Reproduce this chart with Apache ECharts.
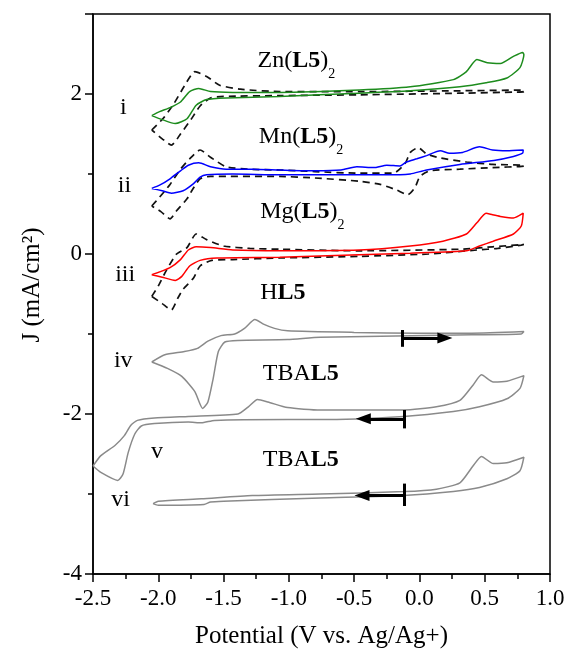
<!DOCTYPE html>
<html>
<head>
<meta charset="utf-8">
<script src="https://cdn.jsdelivr.net/npm/echarts@6/dist/echarts.min.js"></script>
<style>
  html, body { margin: 0; padding: 0; background: #fff; }
  #cvChart { width: 568px; height: 656px; }
</style>
</head>
<body>
<div id="cvChart"></div>
<script>
// axis ranges (V vs Ag/Ag+, mA/cm2)
const xRange = [-2.5, 1.0];
const yRange = [-4, 3];

// i  Zn(L5)2  - loop: upper branch left->right, then lower branch back
const znSolid = [
  [-2.05, 1.73], [-1.99, 1.78], [-1.91, 1.83], [-1.83, 1.90], [-1.76, 2.03], [-1.69, 2.07],
  [-1.60, 2.03], [-1.43, 2.02], [-1.07, 2.02], [-0.46, 2.05], [-0.07, 2.09], [0.26, 2.18],
  [0.36, 2.28], [0.44, 2.43], [0.52, 2.39], [0.62, 2.38], [0.72, 2.47], [0.79, 2.52], [0.80, 2.49],
  [0.77, 2.33], [0.67, 2.20], [0.51, 2.14], [0.31, 2.09], [-0.07, 2.04], [-0.46, 2.01],
  [-1.07, 1.97], [-1.48, 1.95], [-1.63, 1.93], [-1.71, 1.86], [-1.78, 1.69], [-1.87, 1.63],
  [-1.97, 1.68], [-2.05, 1.73]
];
const znDash = [
  [-2.05, 1.55], [-1.96, 1.70], [-1.88, 1.88], [-1.80, 2.10], [-1.72, 2.28], [-1.63, 2.22],
  [-1.53, 2.11], [-1.37, 2.06], [-1.07, 2.03], [-0.46, 2.03], [0.30, 2.04], [0.80, 2.05],
  [0.80, 2.03], [0.30, 2.01], [-0.46, 1.99], [-1.07, 1.98], [-1.50, 1.97], [-1.60, 1.95],
  [-1.68, 1.85], [-1.75, 1.68], [-1.83, 1.50], [-1.90, 1.36], [-1.97, 1.44], [-2.05, 1.55]
];

// ii  Mn(L5)2
const mnSolid = [
  [-2.05, 0.82], [-1.99, 0.86], [-1.91, 0.94], [-1.83, 1.04], [-1.77, 1.11], [-1.69, 1.14],
  [-1.60, 1.09], [-1.48, 1.06], [-1.28, 1.06], [-1.07, 1.05], [-0.80, 1.04], [-0.60, 1.05],
  [-0.48, 1.09], [-0.35, 1.08], [-0.25, 1.11], [-0.15, 1.10], [-0.10, 1.15], [-0.02, 1.19],
  [0.055, 1.23], [0.16, 1.29], [0.23, 1.26], [0.33, 1.27], [0.46, 1.34], [0.56, 1.30],
  [0.67, 1.29], [0.795, 1.30],
  [0.79, 1.26], [0.72, 1.22], [0.57, 1.17], [0.31, 1.12], [0.055, 1.05], [-0.07, 1.00],
  [-0.15, 0.99], [-0.46, 0.99], [-1.07, 0.99], [-1.43, 1.00], [-1.63, 0.99], [-1.68, 0.96],
  [-1.73, 0.88], [-1.81, 0.79], [-1.90, 0.76], [-1.97, 0.79], [-2.05, 0.82]
];
const mnDash = [
  [-2.05, 0.60], [-1.99, 0.71], [-1.91, 0.87], [-1.83, 1.06], [-1.76, 1.19], [-1.68, 1.30],
  [-1.60, 1.21], [-1.48, 1.09], [-1.30, 1.06], [-1.07, 1.05], [-0.80, 1.03], [-0.46, 1.01],
  [-0.20, 1.01], [-0.11, 1.13], [-0.07, 1.27], [-0.01, 1.33], [0.055, 1.25], [0.16, 1.20],
  [0.36, 1.15], [0.56, 1.12], [0.80, 1.11],
  [0.80, 1.10], [0.56, 1.08], [0.31, 1.06], [0.08, 1.04], [0.004, 0.97], [-0.034, 0.83],
  [-0.09, 0.74], [-0.175, 0.80], [-0.30, 0.87], [-0.46, 0.91], [-0.80, 0.95], [-1.07, 0.97],
  [-1.60, 0.97], [-1.68, 0.94], [-1.74, 0.80], [-1.78, 0.69], [-1.86, 0.54], [-1.91, 0.44],
  [-1.98, 0.53], [-2.05, 0.60]
];

// iii Mg(L5)2
const mgSolid = [
  [-2.05, -0.26], [-1.91, -0.17], [-1.83, -0.07], [-1.77, 0.05], [-1.71, 0.09], [-1.60, 0.08],
  [-1.43, 0.05], [-1.07, 0.04], [-0.46, 0.05], [-0.07, 0.10], [0.18, 0.16], [0.36, 0.25],
  [0.44, 0.39], [0.51, 0.51], [0.56, 0.49], [0.62, 0.47], [0.72, 0.45], [0.795, 0.51],
  [0.78, 0.35], [0.72, 0.25], [0.565, 0.16], [0.46, 0.10], [0.36, 0.04], [-0.07, 0.01],
  [-0.46, -0.01], [-1.07, -0.04], [-1.55, -0.05], [-1.68, -0.08], [-1.76, -0.15], [-1.82, -0.28],
  [-1.87, -0.33], [-1.97, -0.29], [-2.05, -0.26]
];
const mgDash = [
  [-2.05, -0.53], [-2.00, -0.40], [-1.94, -0.21], [-1.86, 0.00], [-1.78, 0.08], [-1.71, 0.25],
  [-1.63, 0.18], [-1.50, 0.10], [-1.30, 0.07], [-1.07, 0.06], [-0.46, 0.04], [0.31, 0.06],
  [0.56, 0.09], [0.80, 0.12],
  [0.78, 0.11], [0.60, 0.07], [0.44, 0.05], [0.07, 0.00], [-0.46, -0.03], [-1.07, -0.05],
  [-1.43, -0.07], [-1.59, -0.08], [-1.68, -0.15], [-1.73, -0.30], [-1.81, -0.44], [-1.85, -0.55],
  [-1.90, -0.70], [-1.97, -0.62], [-2.05, -0.53]
];

// iv HL5
const hl5 = [
  [-2.05, -1.35], [-1.95, -1.26], [-1.80, -1.22], [-1.70, -1.18], [-1.62, -1.09], [-1.52, -1.02],
  [-1.415, -1.00], [-1.34, -0.93], [-1.26, -0.82], [-1.19, -0.88], [-1.11, -0.93], [-1.01, -0.96],
  [-0.50, -0.98], [0.00, -0.99], [0.40, -0.99], [0.80, -0.97],
  [0.78, -1.00], [0.40, -1.01], [-0.76, -1.04], [-1.01, -1.07], [-1.39, -1.08], [-1.49, -1.10],
  [-1.54, -1.22], [-1.58, -1.56], [-1.62, -1.85], [-1.66, -1.93], [-1.72, -1.72], [-1.82, -1.53],
  [-1.93, -1.43], [-2.05, -1.35]
];

// v TBAL5 (wide window)
const tbaWide = [
  [-2.50, -2.65], [-2.44, -2.52], [-2.33, -2.39], [-2.26, -2.27], [-2.21, -2.14], [-2.16, -2.08],
  [-2.03, -2.05], [-1.77, -2.03], [-1.39, -2.00], [-1.31, -1.91], [-1.24, -1.82], [-1.16, -1.85],
  [-1.01, -1.92], [-0.76, -1.95], [-0.12, -1.95], [0.13, -1.91], [0.31, -1.83], [0.41, -1.64],
  [0.475, -1.51], [0.565, -1.60], [0.67, -1.59], [0.80, -1.52],
  [0.77, -1.68], [0.67, -1.81], [0.46, -1.91], [0.26, -1.97], [-0.12, -2.03], [-0.76, -2.07],
  [-1.01, -2.07], [-1.57, -2.08], [-1.67, -2.11], [-1.77, -2.10], [-2.03, -2.12], [-2.13, -2.15],
  [-2.18, -2.25], [-2.23, -2.48], [-2.27, -2.75], [-2.31, -2.83], [-2.44, -2.73], [-2.50, -2.65]
];

// vi TBAL5 (narrow window)
const tbaNarrow = [
  [-2.04, -3.12], [-2.00, -3.09], [-1.67, -3.06], [-1.28, -3.02], [-0.76, -3.00], [-0.12, -2.97],
  [0.13, -2.94], [0.31, -2.86], [0.41, -2.65], [0.475, -2.53], [0.565, -2.62], [0.67, -2.61],
  [0.80, -2.54],
  [0.77, -2.71], [0.67, -2.81], [0.46, -2.92], [0.26, -2.97], [-0.12, -3.02], [-0.76, -3.05],
  [-1.50, -3.09], [-1.60, -3.10], [-1.65, -3.13], [-2.00, -3.14], [-2.04, -3.12]
];

// scan-direction arrows: start potential, tip potential, current, bar low/high
const scanArrows = [
  { from: -0.13, to: 0.195, j: -1.05, bar: [-0.95, -1.16] },
  { from: -0.12, to: -0.43, j: -2.06, bar: [-1.95, -2.18] },
  { from: -0.12, to: -0.44, j: -3.02, bar: [-2.87, -3.15] }
];

// text labels: [potential of left edge, current at baseline, pieces]
const curveNames = [
  { at: [-1.24, 2.31], parts: [['Zn(', 'n'], ['L5', 'b'], [')', 'n'], ['2', 's']] },
  { at: [-1.23, 1.36], parts: [['Mn(', 'n'], ['L5', 'b'], [')', 'n'], ['2', 's']] },
  { at: [-1.22, 0.425], parts: [['Mg(', 'n'], ['L5', 'b'], [')', 'n'], ['2', 's']] },
  { at: [-1.22, -0.58], parts: [['H', 'n'], ['L5', 'b']] },
  { at: [-1.20, -1.60], parts: [['TBA', 'n'], ['L5', 'b']] },
  { at: [-1.20, -2.675], parts: [['TBA', 'n'], ['L5', 'b']] }
];
const romanNames = [
  { at: [-2.293, 1.725], text: 'i' },
  { at: [-2.31, 0.75], text: 'ii' },
  { at: [-2.33, -0.36], text: 'iii' },
  { at: [-2.34, -1.43], text: 'iv' },
  { at: [-2.056, -2.575], text: 'v' },
  { at: [-2.36, -3.175], text: 'vi' }
];

const serif = "Liberation Serif";
var myChart = echarts.init(document.getElementById("cvChart"));

function curve(name, data, color, dashed) {
  return {
    name: name,
    type: "line",
    data: data,
    smooth: 0.2,
    showSymbol: false,
    symbol: "none",
    clip: true,
    silent: true,
    lineStyle: {
      color: color,
      width: dashed ? 1.7 : 1.5,
      type: dashed ? [7, 5] : "solid",
    },
    z: dashed ? 2 : 3,
  };
}

let arrowLines = [];
scanArrows.forEach((a) => {
  arrowLines.push([
    { coord: [a.from, a.j], symbol: "none" },
    { coord: [a.to, a.j], symbol: "triangle", symbolSize: [11, 15] },
  ]);
  arrowLines.push([
    { coord: [a.from, a.bar[0]], symbol: "none" },
    { coord: [a.from, a.bar[1]], symbol: "none" },
  ]);
});

let option = {
  animation: false,
  textStyle: { fontFamily: serif },
  grid: {
    left: 93, right: 18, top: 14, bottom: 82,
    show: true, borderColor: "#000", borderWidth: 1.5,
  },
  xAxis: {
    type: "value",
    min: xRange[0], max: xRange[1], interval: 0.5,
    axisLine: { onZero: false, lineStyle: { color: "#000", width: 1.5 } },
    axisTick: { length: 8, lineStyle: { color: "#000", width: 1.5 } },
    minorTick: { show: true, splitNumber: 2, length: 5, lineStyle: { color: "#000", width: 1.5 } },
    splitLine: { show: false },
    axisLabel: {
      color: "#000", fontFamily: serif, fontSize: 23, margin: 13,
      formatter: (v) => v.toFixed(1),
    },
    name: "Potential (V vs. Ag/Ag+)",
    nameLocation: "middle",
    nameGap: 50,
    nameTextStyle: { color: "#000", fontFamily: serif, fontSize: 25 },
  },
  yAxis: {
    type: "value",
    min: yRange[0], max: yRange[1], interval: 2,
    axisLine: { onZero: false, lineStyle: { color: "#000", width: 1.5 } },
    axisTick: { length: 8, lineStyle: { color: "#000", width: 1.5 } },
    minorTick: { show: true, splitNumber: 2, length: 5, lineStyle: { color: "#000", width: 1.5 } },
    splitLine: { show: false },
    axisLabel: {
      color: "#000", fontFamily: serif, fontSize: 23, margin: 11,
      showMaxLabel: false,
      formatter: (v) => (v === 3 ? "" : String(v)),
    },
    name: "J (mA/cm²)",
    nameLocation: "middle",
    nameGap: 48,
    nameTextStyle: { color: "#000", fontFamily: serif, fontSize: 25, padding: [0, 0, 0, 18] },
  },
  series: [
    curve("Zn dashed", znDash, "#111", true),
    curve("Zn(L5)2", znSolid, "#1d8c1d", false),
    curve("Mn dashed", mnDash, "#111", true),
    curve("Mn(L5)2", mnSolid, "#0000ff", false),
    curve("Mg dashed", mgDash, "#111", true),
    curve("Mg(L5)2", mgSolid, "#ff0000", false),
    curve("HL5", hl5, "#8a8a8a", false),
    curve("TBAL5 wide", tbaWide, "#8a8a8a", false),
    curve("TBAL5", tbaNarrow, "#8a8a8a", false),
    {
      name: "scan arrows",
      type: "line",
      data: [],
      silent: true,
      markLine: {
        silent: true,
        animation: false,
        symbol: ["none", "none"],
        label: { show: false },
        emphasis: { disabled: true },
        lineStyle: { color: "#000", width: 3, type: "solid" },
        data: arrowLines,
      },
      z: 5,
    },
  ],
};
myChart.setOption(option);

// labels placed at data positions
const ctx = document.createElement("canvas").getContext("2d");
const pieceStyle = {
  n: { size: 24, weight: "normal", dy: -8 },
  b: { size: 24, weight: "bold", dy: -8 },
  s: { size: 14, weight: "normal", dy: 5 },
};
let graphics = [];
curveNames.forEach((lab) => {
  let p = myChart.convertToPixel({ gridIndex: 0 }, lab.at);
  let x = p[0];
  lab.parts.forEach((part) => {
    let st = pieceStyle[part[1]];
    ctx.font = st.weight + " " + st.size + "px '" + serif + "'";
    graphics.push({
      type: "text",
      x: x,
      y: p[1] + st.dy,
      silent: true,
      style: {
        text: part[0],
        fill: "#000",
        fontFamily: serif,
        fontSize: st.size,
        fontWeight: st.weight,
        align: "left",
        verticalAlign: "middle",
      },
    });
    x += ctx.measureText(part[0]).width;
  });
});
romanNames.forEach((lab) => {
  let p = myChart.convertToPixel({ gridIndex: 0 }, lab.at);
  graphics.push({
    type: "text",
    x: p[0],
    y: p[1] - 8,
    silent: true,
    style: {
      text: lab.text,
      fill: "#000",
      fontFamily: serif,
      fontSize: 24,
      align: "left",
      verticalAlign: "middle",
    },
  });
});
myChart.setOption({ graphic: graphics });

window.addEventListener("resize", () => {
  if (myChart) myChart.resize();
});
</script>
</body>
</html>
